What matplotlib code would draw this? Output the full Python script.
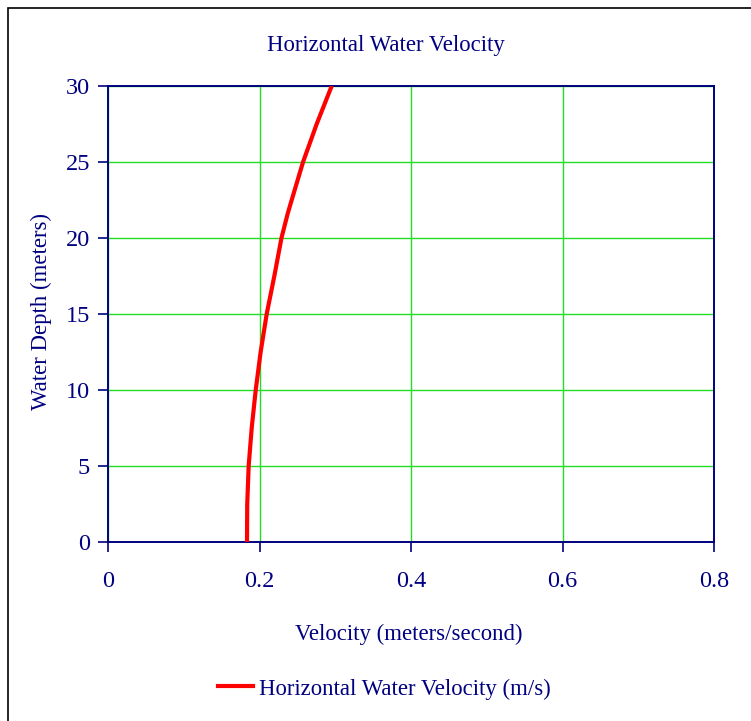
import matplotlib
matplotlib.use("Agg")
import matplotlib.pyplot as plt
from matplotlib.patches import Rectangle
from matplotlib.lines import Line2D

# depth (m) vs horizontal velocity (m/s)
depth = [0, 2.5, 5, 7.5, 10, 12.5, 15, 17.5, 20, 21.6, 22.5, 25, 27.5, 30]
velocity = [0.1835, 0.1838, 0.1857, 0.1897, 0.195, 0.2015, 0.2095, 0.2196,
            0.229, 0.2372, 0.2425, 0.2575, 0.2755, 0.2953]

xticks = [0, 0.2, 0.4, 0.6, 0.8]
xtick_labels = ["0", "0.2", "0.4", "0.6", "0.8"]
yticks = [0, 5, 10, 15, 20, 25, 30]

navy = "#000080"
grid_green = "#22DD22"
plt.rcParams['font.family'] = ['Liberation Serif', 'DejaVu Serif']

fig = plt.figure(figsize=(7.51, 7.21), dpi=100)
# outer chart-area border (runs off the right and bottom edges)
fig.patches.append(Rectangle((8 / 751, -0.05), 1.2, 1 - 8 / 721 + 0.05,
                             transform=fig.transFigure, fill=False,
                             edgecolor="black", linewidth=1.2))

ax = fig.add_axes([108 / 751, 1 - 542 / 721, 606 / 751, 456 / 721])
ax.plot(velocity, depth, color="#FF0000", linewidth=3, solid_capstyle="butt",
        zorder=3)

ax.set_xlim(0, 0.8)
ax.set_ylim(0, 30)
ax.set_xticks(xticks)
ax.set_xticklabels(xtick_labels)
ax.set_yticks(yticks)
ax.grid(True, color=grid_green, linewidth=1.0)
ax.set_axisbelow(True)

for side in ["left", "right", "top", "bottom"]:
    ax.spines[side].set_color(navy)
    ax.spines[side].set_linewidth(1.4)

ax.tick_params(axis="both", colors=navy, labelcolor=navy, labelsize=17.5,
               length=7, width=1.2, direction="out")
ax.tick_params(axis="x", pad=14)
ax.tick_params(axis="y", pad=6)

fig.text(386 / 751, 1 - 45 / 721, "Horizontal Water Velocity", color=navy,
         fontsize=16.4, ha="center", va="center")
fig.text(409 / 751, 1 - 634 / 721, "Velocity (meters/second)", color=navy,
         fontsize=16.4, ha="center", va="center")
fig.text(41 / 751, 1 - 312 / 721, "Water Depth (meters)", color=navy,
         fontsize=16.4, ha="center", va="center", rotation=90)

# legend drawn by hand to sit in the bottom strip like the original
fig.lines.append(Line2D([218 / 751, 253 / 751], [1 - 686 / 721, 1 - 686 / 721],
                        transform=fig.transFigure, color="#FF0000", linewidth=3))
fig.text(259 / 751, 1 - 689 / 721, "Horizontal Water Velocity (m/s)",
         color=navy, fontsize=16.4, ha="left", va="center")

fig.savefig("out.png", dpi=100)
